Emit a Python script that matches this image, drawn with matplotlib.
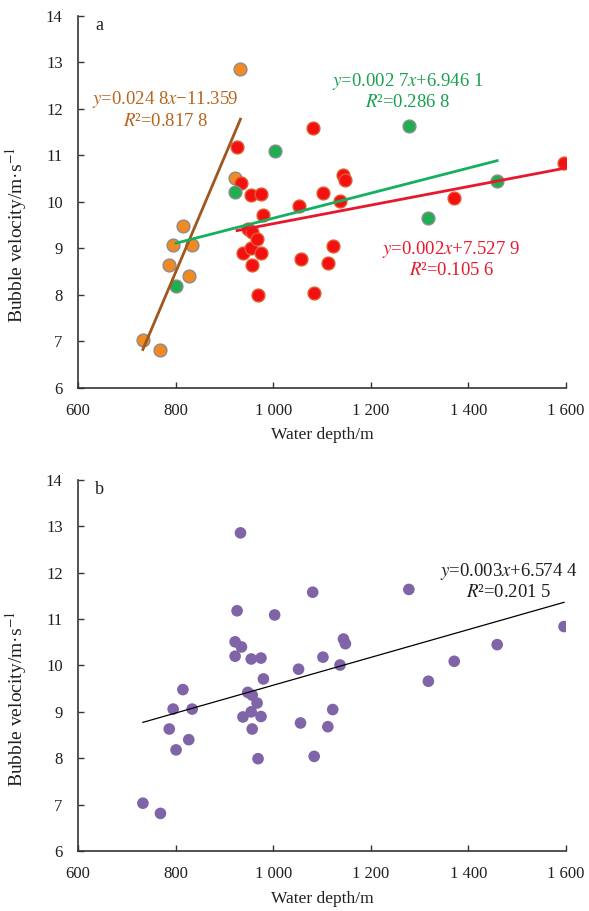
import matplotlib.pyplot as plt
import numpy as np

plt.rcParams['font.family'] = ['Liberation Serif', 'DejaVu Serif']
plt.rcParams['mathtext.fontset'] = 'stix'
plt.rcParams['font.size'] = 12

# veriler: su derinligi (m), kabarcik hizi (m/s), grup
depth = [733, 769, 787, 795, 801, 815, 827, 834, 922, 922,
         926, 933, 935, 938, 948, 955, 955, 957, 957, 967,
         969, 975, 975, 980, 1003, 1052, 1056, 1081, 1084, 1102,
         1112, 1122, 1137, 1144, 1148, 1278, 1318, 1371, 1459, 1596]
velocity = [7.03, 6.81, 8.63, 9.06, 8.18, 9.48, 8.40, 9.06, 10.51, 10.20,
            11.18, 12.86, 10.40, 8.89, 9.42, 10.14, 9.00, 8.63, 9.36, 9.19,
            7.99, 10.16, 8.90, 9.71, 11.09, 9.92, 8.76, 11.58, 8.04, 10.18,
            8.68, 9.05, 10.01, 10.57, 10.47, 11.64, 9.66, 10.09, 10.45, 10.84]
group = ['O', 'O', 'O', 'O', 'G', 'O', 'O', 'O', 'O', 'G',
         'R', 'O', 'R', 'R', 'R', 'R', 'R', 'R', 'R', 'R',
         'R', 'R', 'R', 'R', 'G', 'R', 'R', 'R', 'R', 'R',
         'R', 'R', 'R', 'R', 'R', 'G', 'G', 'R', 'G', 'R']

# trend cizgileri: egim, kesisim
fit_o = [0.0248, -11.359]
fit_g = [0.0027, 6.9461]
fit_r = [0.002, 7.5279]
fit_all = [0.003, 6.5744]

x_ticks = [600, 800, 1000, 1200, 1400, 1600]
x_labels = ['600', '800', '1 000', '1 200', '1 400', '1 600']
y_ticks = [6, 7, 8, 9, 10, 11, 12, 13, 14]

depth = np.array(depth)
velocity = np.array(velocity)
group = np.array(group)

fig = plt.figure(figsize=(5.89, 9.11), dpi=100)
ax1 = fig.add_axes([0.1324, 0.5746, 0.8285, 0.4078])
ax2 = fig.add_axes([0.1324, 0.0659, 0.8285, 0.4072])

for ax, letter in [(ax1, 'a'), (ax2, 'b')]:
    ax.set_xlim(600, 1600)
    ax.set_ylim(6, 14)
    ax.set_xticks(x_ticks)
    ax.set_xticklabels(x_labels)
    ax.set_yticks(y_ticks)
    ax.spines['right'].set_color('none')
    ax.spines['top'].set_color('none')
    ax.spines['left'].set_color('#3a3232')
    ax.spines['bottom'].set_color('#3a3232')
    ax.spines['left'].set_linewidth(1.2)
    ax.spines['bottom'].set_linewidth(1.2)
    ax.tick_params(direction='in', length=4, width=1, colors='#3a3232',
                   labelcolor='#231f20', labelsize=12)
    ax.tick_params(axis='x', pad=11)
    ax.tick_params(axis='y', pad=11)
    ax.set_xlabel('Water depth/m', fontsize=12.5, color='#231f20', labelpad=6)
    ax.set_ylabel('Bubble velocity/m·s$^{-1}$', fontsize=14, color='#231f20')
    ax.yaxis.set_label_coords(-0.1, 0.41)
    ax.text(0.035, 0.975, letter, transform=ax.transAxes, fontsize=13,
            va='center', ha='left', color='#231f20')

# a paneli
colors = {'O': '#f28a24', 'G': '#1fae50', 'R': '#f41010'}
edges = {'O': '#8c8c8c', 'G': '#8c8c8c', 'R': '#e05a30'}
for g in ['O', 'R', 'G']:
    m = group == g
    ax1.scatter(depth[m], velocity[m], s=85, c=colors[g], edgecolors=edges[g],
                linewidths=1.0, zorder=3)

line_colors = {'O': '#a0561c', 'G': '#14b060', 'R': '#e8182c'}
for g, fit in [('O', fit_o), ('G', fit_g), ('R', fit_r)]:
    m = group == g
    xs = np.array([depth[m].min(), depth[m].max()])
    ax1.plot(xs, fit[0] * xs + fit[1], color=line_colors[g], lw=2.0, zorder=4)

fs = 13.5
ax1.text(779, 12.2, '$y$=0.024 8$x$\u221211.359', color='#b5651d', ha='center', va='center', fontsize=fs)
ax1.text(779, 11.73, '$R$²=0.817 8', color='#b5651d', ha='center', va='center', fontsize=fs)
ax1.text(1276, 12.59, '$y$=0.002 7$x$+6.946 1', color='#1aa050', ha='center', va='center', fontsize=fs)
ax1.text(1276, 12.14, '$R$²=0.286 8', color='#1aa050', ha='center', va='center', fontsize=fs)
ax1.text(1365, 8.98, '$y$=0.002$x$+7.527 9', color='#e8192c', ha='center', va='center', fontsize=fs)
ax1.text(1365, 8.53, '$R$²=0.105 6', color='#e8192c', ha='center', va='center', fontsize=fs)

# b paneli
ax2.scatter(depth, velocity, s=70, c='#8064a8', edgecolors='none', zorder=3)
xs = np.array([depth.min(), depth.max()])
ax2.plot(xs, fit_all[0] * xs + fit_all[1], color='black', lw=0.9, zorder=4)
ax2.text(1483, 12.03, '$y$=0.003$x$+6.574 4', color='#231f20', ha='center', va='center', fontsize=fs)
ax2.text(1483, 11.58, '$R$²=0.201 5', color='#231f20', ha='center', va='center', fontsize=fs)

fig.savefig('out.png', dpi=100)
